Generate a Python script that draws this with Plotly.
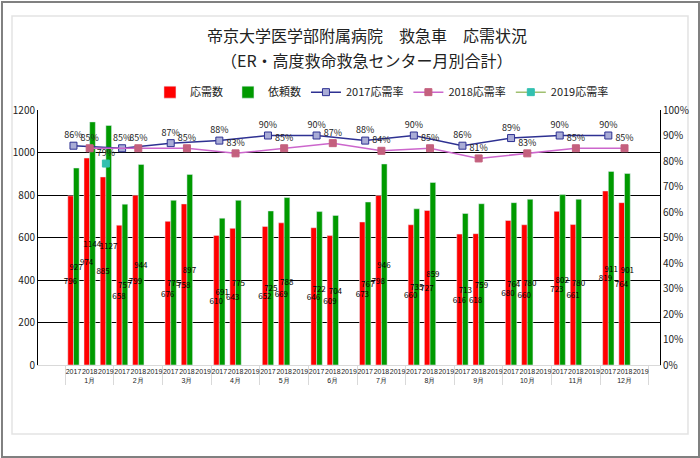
import plotly.graph_objects as go

months = ["1月", "2月", "3月", "4月", "5月", "6月", "7月", "8月", "9月", "10月", "11月", "12月"]
years = ["2017", "2018", "2019"]

# 応需数
ouju_2017 = [796, 658, 676, 610, 652, 646, 673, 660, 616, 680, 723, 819]
ouju_2018 = [974, 799, 758, 643, 669, 609, 798, 727, 618, 660, 661, 764]
ouju_2019 = [885, None, None, None, None, None, None, None, None, None, None, None]

# 依頼数
irai_2017 = [927, 757, 775, 691, 725, 722, 767, 735, 713, 764, 802, 911]
irai_2018 = [1144, 944, 897, 775, 788, 704, 946, 859, 759, 780, 780, 901]
irai_2019 = [1127, None, None, None, None, None, None, None, None, None, None, None]

# 応需率 (%)
rate_2017 = [86, 85, 87, 88, 90, 90, 88, 90, 86, 89, 90, 90]
rate_2018 = [85, 85, 85, 83, 85, 87, 84, 85, 81, 83, 85, 85]
rate_2019 = [79]

FONT = "Noto Sans CJK JP"
LABEL_LIFT = 0.02  # raise the % labels a little above the markers

x_all = [[m for m in months for _ in years], [y for _ in months for y in years]]


def flatten(v17, v18, v19):
    out = []
    for a, b, c in zip(v17, v18, v19):
        out += [a, b, c]
    return out


ouju = flatten(ouju_2017, ouju_2018, ouju_2019)
irai = flatten(irai_2017, irai_2018, irai_2019)

fig = go.Figure()

# bars
fig.add_trace(go.Bar(x=x_all, y=ouju, name="応需数", marker_color="#ff0000",
                     offsetgroup="a"))
fig.add_trace(go.Bar(x=x_all, y=irai, name="依頼数", marker_color="#009a00",
                     offsetgroup="b"))

# transparent copies on top, so the value labels are not hidden by the next bar
for vals, grp in [(ouju, "a"), (irai, "b")]:
    fig.add_trace(go.Bar(
        x=x_all, y=vals, offsetgroup=grp, showlegend=False, hoverinfo="skip",
        marker=dict(color="rgba(0,0,0,0)", line=dict(width=0)),
        text=[str(v) if v is not None else "" for v in vals],
        textposition="inside", insidetextanchor="middle", textangle=0,
        textfont=dict(size=8, color="black", family=FONT),
    ))


def rate_traces(year, rates, line_color, marker_color, marker_line):
    n = len(rates)
    x = [months[:n], [year] * n]
    y = [r / 100 for r in rates]
    fig.add_trace(go.Scatter(
        x=x, y=y, yaxis="y2", name=f"{year}応需率", mode="lines+markers",
        line=dict(color=line_color, width=1.5),
        marker=dict(symbol="square", size=7, color=marker_color,
                    line=dict(color=marker_line, width=1)),
    ))
    fig.add_trace(go.Scatter(
        x=x, y=[v + LABEL_LIFT for v in y], yaxis="y2", mode="text",
        showlegend=False, hoverinfo="skip",
        text=[f"{r}%" for r in rates], textposition="top center",
        textfont=dict(size=9, color="#222222", family=FONT),
    ))


rate_traces("2017", rate_2017, "#2e3192", "#a9acd6", "#2e3192")
rate_traces("2018", rate_2018, "#cc66cc", "#c4607e", "#c4607e")
rate_traces("2019", rate_2019, "#a0c070", "#33c0b0", "#33c0b0")

fig.update_layout(
    width=700, height=458,
    margin=dict(l=38, r=40, t=110, b=93),
    paper_bgcolor="white", plot_bgcolor="white",
    font=dict(family=FONT, size=10, color="#222222"),
    barmode="group", bargap=0.3, bargroupgap=0,
    uniformtext=dict(minsize=8, mode="show"),
    showlegend=True,
    legend=dict(orientation="h", x=0.553, xanchor="center", y=1.07, yanchor="middle",
                font=dict(size=11, family=FONT), itemwidth=30, bgcolor="rgba(0,0,0,0)"),
    xaxis=dict(
        type="multicategory", showgrid=False, showline=True, linecolor="#d9d9d9",
        dividercolor="#d9d9d9", dividerwidth=1, tickangle=0,
        tickfont=dict(size=7, family="Liberation Sans", color="#222222"),
    ),
    yaxis=dict(
        range=[0, 1200], dtick=200, showgrid=True, gridcolor="black", gridwidth=1,
        showline=True, linecolor="black", zeroline=False,
        tickfont=dict(size=10), ticks="", ticklen=0,
    ),
    yaxis2=dict(
        range=[0, 1], dtick=0.1, tickformat=".0%", overlaying="y", side="right",
        showgrid=False, showline=True, linecolor="black", zeroline=False,
        tickfont=dict(size=10),
    ),
    annotations=[
        dict(text="帝京大学医学部附属病院　救急車　応需状況", xref="paper", yref="paper",
             x=0.529, y=1.294, yanchor="middle", showarrow=False,
             font=dict(size=16, family=FONT, color="#222222")),
        dict(text="（ER・高度救命救急センター月別合計）", xref="paper", yref="paper",
             x=0.529, y=1.196, yanchor="middle", showarrow=False,
             font=dict(size=16, family=FONT, color="#222222")),
    ],
    shapes=[
        dict(type="rect", xref="paper", yref="paper", x0=-0.0418, x1=1.045, y0=-0.2706, y1=1.3686,
             line=dict(color="#e3e3e3", width=1.5), layer="below"),
        dict(type="rect", xref="paper", yref="paper", x0=-0.0579, x1=1.0627, y0=-0.3608, y1=1.4235,
             line=dict(color="#808080", width=2), layer="below"),
    ],
)

# the page body has a default 8px margin; drop it so the figure sits at the window corner
fig.write_html("out.html", config={"displayModeBar": False},
               post_script="document.body.style.margin='0';")
